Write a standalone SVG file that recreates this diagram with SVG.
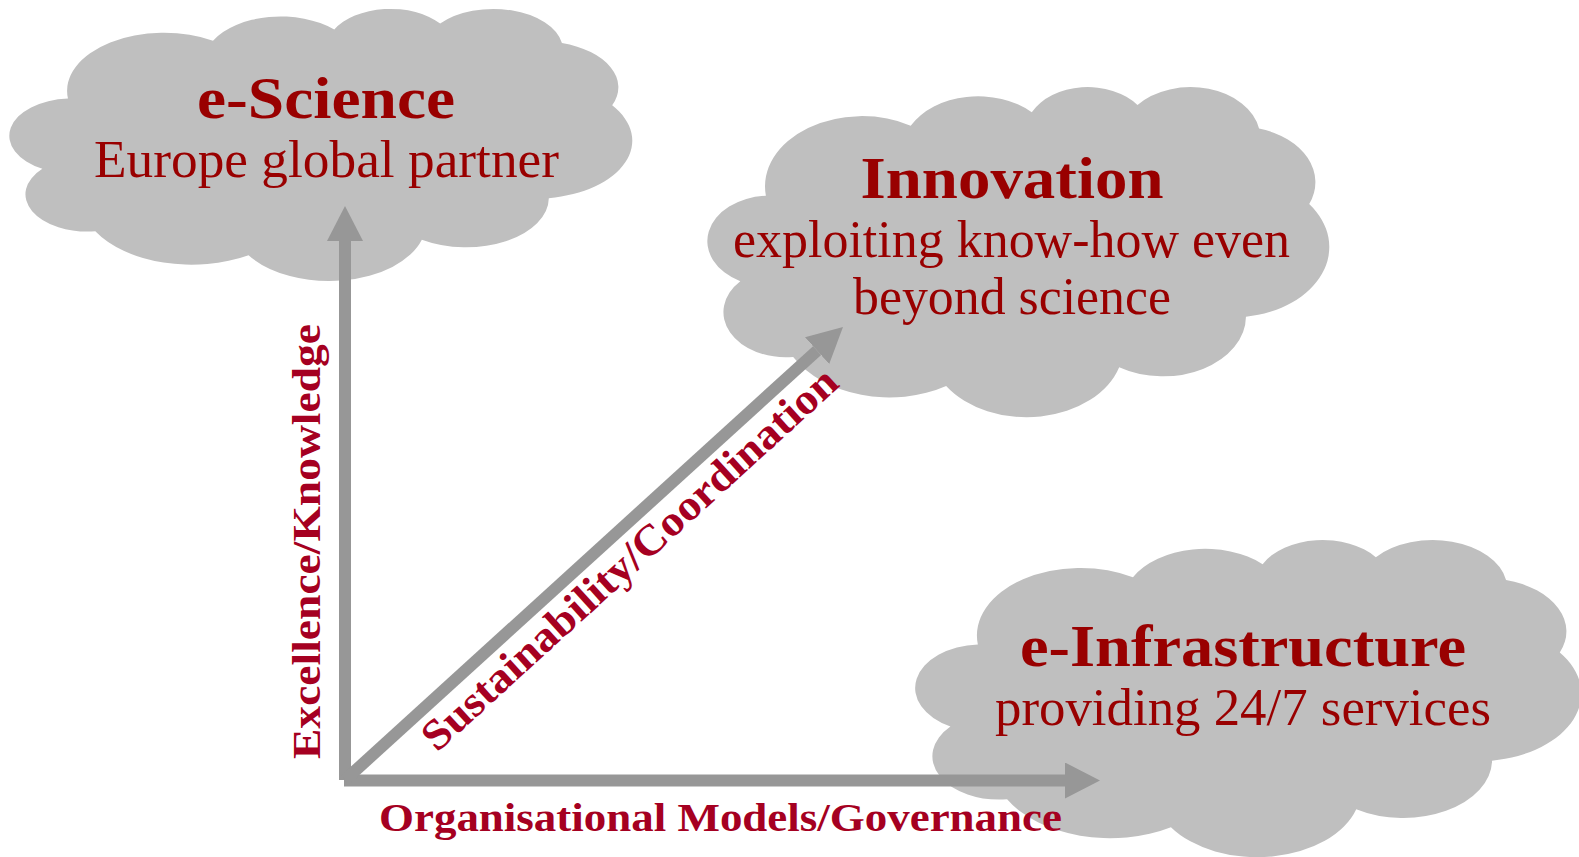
<svg xmlns="http://www.w3.org/2000/svg" width="1579" height="857" viewBox="0 0 1579 857">
  <defs>
    <style>
      .cloud { fill: #bfbfbf; }
      .axis { stroke: #979797; stroke-width: 12; fill: none; }
      .head { fill: #979797; }
      .title { font-family: "Liberation Serif", "Times New Roman", serif; font-weight: bold; font-size: 59px; fill: #990000; }
      .sub { font-family: "Liberation Serif", "Times New Roman", serif; font-size: 53px; fill: #990000; }
      .axislabel { font-family: "Liberation Serif", "Times New Roman", serif; font-weight: bold; font-size: 41px; fill: #a50021; }
      .diag { font-size: 43px; }
    </style>
    <!-- cloud outline in a 43200 x 43200 box -->
    <path id="cloudShape" d="M3900 14370
      A6753 9190 0 0 1 14005 5202
      A5333 7267 0 0 1 22456 3432
      A4365 5945 0 0 1 29833 2481
      A4857 6595 0 0 1 38318 5576
      A5333 7273 0 0 1 41818 15460
      A6775 9220 0 0 1 37404 30203
      A5785 7867 0 0 1 28556 36814
      A6752 9215 0 0 1 16481 39266
      A7720 10543 0 0 1 5805 35472
      A4360 5918 0 0 1 2114 25550
      A4345 5945 0 0 1 3900 14370 Z"/>
    <marker id="arrowHead" markerUnits="userSpaceOnUse" markerWidth="36" markerHeight="36" refX="0" refY="18" orient="auto">
      <path class="head" d="M0 0 L35 18 L0 36 Z"/>
    </marker>
  </defs>

  <!-- clouds -->
  <g id="node-escience">
    <use href="#cloudShape" class="cloud" transform="translate(12 8) scale(0.014352 0.0062963)"/>
  </g>
  <g id="node-innovation">
    <use href="#cloudShape" class="cloud" transform="translate(710 86) scale(0.014329 0.0076389)"/>
  </g>
  <g id="node-einfrastructure">
    <use href="#cloudShape" class="cloud" transform="translate(918 539) scale(0.015347 0.007338)"/>
  </g>

  <!-- axes -->
  <g id="connectors">
    <line class="axis" x1="345" y1="780" x2="345" y2="241" marker-end="url(#arrowHead)"/>
    <line class="axis" x1="344" y1="780.5" x2="1065" y2="780.5" marker-end="url(#arrowHead)"/>
    <line class="axis" x1="345" y1="780" x2="817.1" y2="350.6" marker-end="url(#arrowHead)"/>
  </g>

  <!-- cloud texts -->
  <g id="text-escience">
    <text class="title" x="326" y="118" text-anchor="middle" textLength="258" lengthAdjust="spacingAndGlyphs">e-Science</text>
    <text class="sub" x="326.5" y="177" text-anchor="middle" textLength="465" lengthAdjust="spacingAndGlyphs">Europe global partner</text>
  </g>
  <g id="text-innovation">
    <text class="title" x="1012" y="198" text-anchor="middle" textLength="303" lengthAdjust="spacingAndGlyphs">Innovation</text>
    <text class="sub" x="1011.5" y="257" text-anchor="middle" textLength="557" lengthAdjust="spacingAndGlyphs">exploiting know-how even</text>
    <text class="sub" x="1012" y="314" text-anchor="middle" textLength="318" lengthAdjust="spacingAndGlyphs">beyond science</text>
  </g>
  <g id="text-einfrastructure">
    <text class="title" x="1243" y="666" text-anchor="middle" textLength="446" lengthAdjust="spacingAndGlyphs">e-Infrastructure</text>
    <text class="sub" x="1243" y="725" text-anchor="middle" textLength="496" lengthAdjust="spacingAndGlyphs">providing 24/7 services</text>
  </g>

  <!-- axis labels -->
  <g id="axis-labels">
    <text class="axislabel" transform="translate(320 759) rotate(-90)" textLength="435" lengthAdjust="spacingAndGlyphs">Excellence/Knowledge</text>
    <text class="axislabel diag" transform="translate(437 753) rotate(-42.3)" textLength="546" lengthAdjust="spacingAndGlyphs">Sustainability/Coordination</text>
    <text class="axislabel" x="379" y="831" textLength="683" lengthAdjust="spacingAndGlyphs">Organisational Models/Governance</text>
  </g>
</svg>
